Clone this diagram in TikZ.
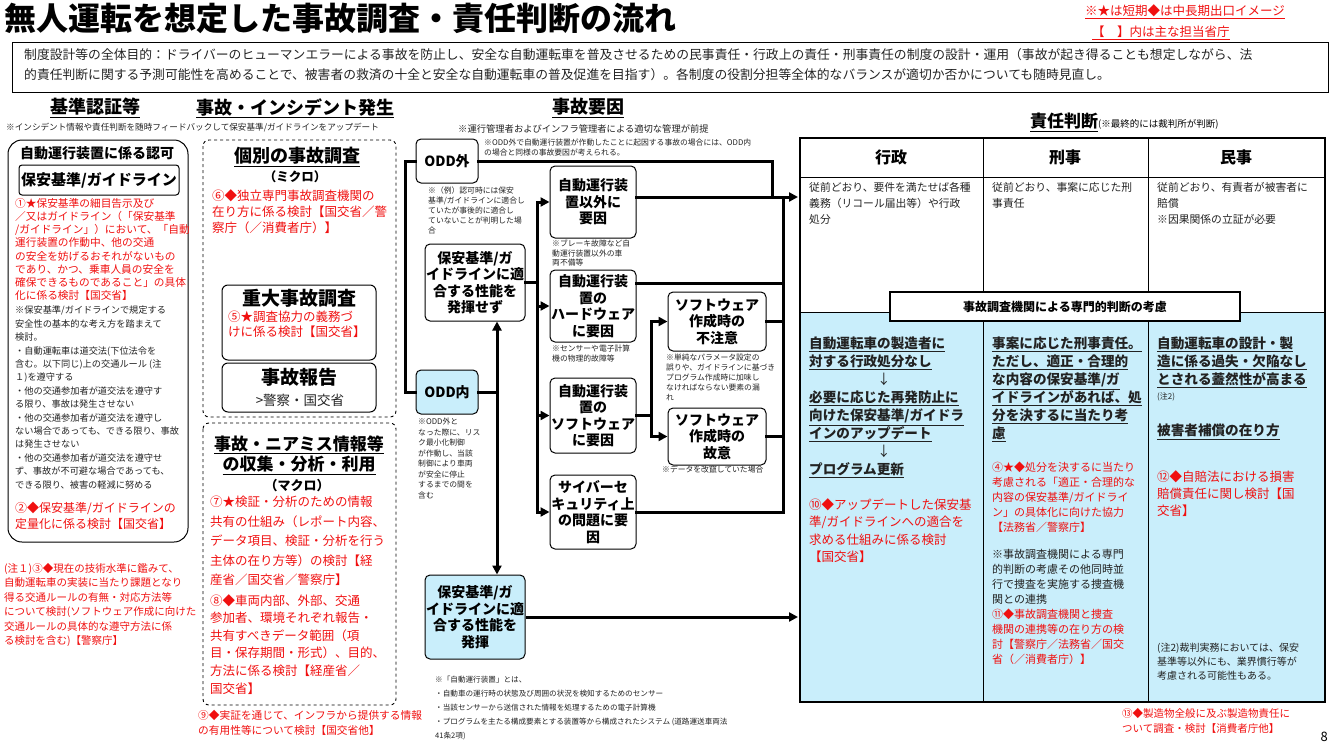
\documentclass[tikz,border=0pt]{standalone}
\usepackage{fontspec}
\setmainfont{Noto Sans CJK JP}
\usetikzlibrary{arrows.meta}
\newcommand{\fs}[2]{\fontsize{#1}{#2}\selectfont}
\newcommand{\U}[1]{\underline{#1}}
\definecolor{rd}{HTML}{F01010}
\definecolor{lb}{HTML}{C9EEFB}
\definecolor{tx}{HTML}{222222}
\begin{document}
\begin{tikzpicture}[x=1pt,y=-1pt,
  note/.style={anchor=north west,align=left,inner sep=0,text=tx},
  rnote/.style={anchor=north west,align=left,inner sep=0,text=rd},
  fbox/.style={draw,rounded corners=5,line width=1,align=center,font=\bfseries\fs{14}{16.5},inner sep=1},
  hdr/.style={font=\bfseries\fs{18}{20},inner sep=0},
  con/.style={line width=3,line cap=rect},
  arr/.style={line width=3,-{Triangle[length=9,width=9]}},
]
\useasboundingbox (0,0) rectangle (1334,750);
% title
\node[anchor=north west,inner sep=0,font=\bfseries\fs{32}{34}] (title) at (4,3) {無人運転を想定した事故調査・責任判断の流れ};
\node[anchor=north west,inner sep=0,text=rd,font=\fs{12.5}{14}] (leg1) at (1085,4) {\U{※★は短期◆は中長期出口イメージ}};
\node[anchor=north west,inner sep=0,text=rd,font=\fs{12.5}{14}] (leg2) at (1092,26) {\U{【　】内は主な担当省庁}};
\draw[line width=1] (12,42) rectangle (1328,92);
\node[note,font=\fs{12.8}{20}] (purpose) at (24,48) {制度設計等の全体目的：ドライバーのヒューマンエラーによる事故を防止し、安全な自動運転車を普及させるための民事責任・行政上の責任・刑事責任の制度の設計・運用（事故が起き得ることも想定しながら、法\\的責任判断に関する予測可能性を高めることで、被害者の救済の十全と安全な自動運転車の普及促進を目指す）。各制度の役割分担等全体的なバランスが適切か否かについても随時見直し。};

% column headers
\node[hdr] (h1) at (95,108) {\U{基準認証等}};
\node[hdr] (h2) at (295,108) {\U{事故・インシデント発生}};
\node[hdr] (h3) at (588,108) {\U{事故要因}};
\node[anchor=north west,inner sep=0] (h4) at (1030,113) {\bfseries\fs{17}{19}\U{責任判断}\mdseries\fs{9.5}{11}(※最終的には裁判所が判断)};
\node[note,font=\fs{8.6}{10}] (fb) at (6,123) {※インシデント情報や責任判断を随時フィードバックして保安基準/ガイドラインをアップデート};
\node[note,font=\fs{9.3}{11}] (pre) at (458,124) {※運行管理者およびインフラ管理者による適切な管理が前提};

% left box
\draw[line width=1,rounded corners=14] (8,140) rectangle (188,542);
\node[font=\bfseries\fs{14}{16},inner sep=0] (ninka) at (97,153) {自動運行装置に係る認可};
\node[draw,rounded corners=3,line width=1,minimum width=160,minimum height=30,font=\bfseries\fs{15}{17},inner sep=0] (hoan) at (99,180) {保安基準/ガイドライン};
\node[rnote,font=\fs{10.7}{13.2}] (r1) at (15,198) {①★保安基準の細目告示及び\\／又はガイドライン（「保安基準\\/ガイドライン」）において、「自動\\運行装置の作動中、他の交通\\の安全を妨げるおそれがないもの\\であり、かつ、乗車人員の安全を\\確保できるものであること」の具体\\化に係る検討【国交省】};
\node[note,font=\fs{9.2}{13.4}] (b1) at (15,306) {※保安基準/ガイドラインで規定する\\安全性の基本的な考え方を踏まえて\\検討。\\・自動運転車は道交法(下位法令を\\含む。以下同じ)上の交通ルール (注\\１)を遵守する\\・他の交通参加者が道交法を遵守す\\る限り、事故は発生させない\\・他の交通参加者が道交法を遵守し\\ない場合であっても、できる限り、事故\\は発生させない\\・他の交通参加者が道交法を遵守せ\\ず、事故が不可避な場合であっても、\\できる限り、被害の軽減に努める};
\node[rnote,font=\fs{12}{16}] (r2) at (15,502) {②◆保安基準/ガイドラインの\\定量化に係る検討【国交省】};
\node[rnote,font=\fs{10.5}{14.5}] (r3) at (4,563) {(注１)③◆現在の技術水準に鑑みて、\\自動運転車の実装に当たり課題となり\\得る交通ルールの有無・対応方法等\\について検討(ソフトウェア作成に向けた\\交通ルールの具体的な遵守方法に係\\る検討を含む)【警察庁】};

% incident column
\draw[line width=0.9,dashed,rounded corners=6] (203,140) rectangle (396,417);
\node[font=\bfseries\fs{18}{20},inner sep=0] (kobetsu) at (297,157) {\U{個別の事故調査}};
\node[font=\bfseries\fs{12.5}{14},inner sep=0] (micro) at (295,177) {（ミクロ）};
\node[rnote,font=\fs{12.5}{16.2}] (r6) at (212,189) {⑥◆独立専門事故調査機関の\\在り方に係る検討【国交省／警\\察庁（／消費者庁）】};
\draw[line width=1,rounded corners=6] (222,285) rectangle (376,360);
\node[font=\bfseries\fs{19}{21},inner sep=0] (judai) at (299,298) {重大事故調査};
\node[rnote,font=\fs{12.5}{15}] (r5) at (228,311) {⑤★調査協力の義務づ\\けに係る検討【国交省】};
\draw[line width=1,rounded corners=6] (222,363) rectangle (376,412);
\node[font=\bfseries\fs{19}{21},inner sep=0] (hokoku) at (299,377) {事故報告};
\node[font=\fs{13.5}{15},inner sep=0,text=tx] (keisatsu) at (300,400) {>警察・国交省};

\draw[line width=0.9,dashed,rounded corners=6] (203,423) rectangle (396,705);
\node[font=\bfseries\fs{17}{20.5},inner sep=0,align=center] (macroT) at (299,455) {\U{事故・ニアミス情報等}\\\U{の収集・分析・利用}};
\node[font=\bfseries\fs{13}{14},inner sep=0] (macro) at (297,486) {（マクロ）};
\node[rnote,font=\fs{12.5}{19.5}] (r7) at (210,496) {⑦★検証・分析のための情報\\共有の仕組み（レポート内容、\\データ項目、検証・分析を行う\\主体の在り方等）の検討【経\\産省／国交省／警察庁】};
\node[rnote,font=\fs{12.5}{17.6}] (r8) at (210,594) {⑧◆車両内部、外部、交通\\参加者、環境それぞれ報告・\\共有すべきデータ範囲（項\\目・保存期間・形式）、目的、\\方法に係る検討【経産省／\\国交省】};
\node[rnote,font=\fs{10.7}{15}] (r9) at (198,710) {⑨◆実証を通じて、インフラから提供する情報\\の有用性等について検討【国交省他】};

% cause column boxes
\node[fbox,minimum width=62,minimum height=44] (oddout) at (447,161) {ODD外};
\node[fbox,minimum width=62,minimum height=44,fill=lb] (oddin) at (447,392) {ODD内};
\node[fbox,minimum width=94,minimum height=77] (fail) at (475,282.5) {保安基準/ガ\\イドラインに適\\合する性能を\\発揮せず};
\node[fbox,minimum width=94,minimum height=84,fill=lb] (ok) at (475,617) {保安基準/ガ\\イドラインに適\\合する性能を\\発揮};
\node[fbox,minimum width=86,minimum height=72] (other) at (593,202) {自動運行装\\置以外に\\要因};
\node[fbox,minimum width=86,minimum height=72] (hw) at (593,306) {自動運行装\\置の\\ハードウェア\\に要因};
\node[fbox,minimum width=86,minimum height=75] (sw) at (593,415.5) {自動運行装\\置の\\ソフトウェア\\に要因};
\node[fbox,minimum width=86,minimum height=74] (cyber) at (593,512) {サイバーセ\\キュリティ上\\の問題に要\\因};
\node[fbox,minimum width=98,minimum height=59] (care) at (717,321.5) {ソフトウェア\\作成時の\\不注意};
\node[fbox,minimum width=98,minimum height=57] (intent) at (717,436.5) {ソフトウェア\\作成時の\\故意};

\node[note,font=\fs{7.8}{9.5}] (n1) at (484,139) {※ODD外で自動運行装置が作動したことに起因する事故の場合には、ODD内\\の場合と同様の事故要因が考えられる。};
\node[note,font=\fs{7.8}{10}] (n2) at (428,187) {※（例）認可時には保安\\基準/ガイドラインに適合し\\ていたが事後的に適合し\\ていないことが判明した場\\合};
\node[note,font=\fs{7.8}{9.5}] (n3) at (552,240) {※ブレーキ故障など自\\動運行装置以外の車\\両不備等};
\node[note,font=\fs{7.8}{9.5}] (n4) at (552,345) {※センサーや電子計算\\機の物理的故障等};
\node[note,font=\fs{7.8}{10}] (n5) at (666,354) {※単純なパラメータ設定の\\誤りや、ガイドラインに基づき\\プログラム作成時に加味し\\なければならない要素の漏\\れ};
\node[note,font=\fs{7.8}{9.5}] (n6) at (662,466) {※データを改竄していた場合};
\node[note,font=\fs{7.8}{10.5}] (n7) at (418,418) {※ODD外と\\なった際に、リス\\ク最小化制御\\が作動し、当該\\制御により車両\\が安全に停止\\するまでの間を\\含む};
\node[note,font=\fs{7.6}{14}] (n8) at (435,676) {※「自動運行装置」とは、\\・自動車の運行時の状態及び周囲の状況を検知するためのセンサー\\・当該センサーから送信された情報を処理するための電子計算機\\・プログラムを主たる構成要素とする装置等から構成されたシステム (道路運送車両法\\41条2項)};

% connectors
\coordinate (L1) at (405,161);
\coordinate (L2) at (405,392);
\draw[con] (oddout.west) -- (L1) -- (L2) -- (oddin.west);
\coordinate (V0) at (497,392);
\draw[con] (oddin.east) -- (V0);
\draw[arr] (V0) -- (fail.south -| V0);
\draw[arr] (V0) -- (ok.north -| V0);
\coordinate (S0) at (537,282.5);
\draw[con] (fail.east) -- (S0);
\draw[con] (537,202) -- (537,512);
\draw[arr] (537,202) -- (other.west);
\draw[arr] (537,306) -- (hw.west);
\draw[arr] (537,415.5) -- (sw.west);
\draw[arr] (537,512) -- (cyber.west);
\coordinate (W0) at (651,415.5);
\draw[con] (sw.east) -- (W0);
\draw[con] (651,321.5) -- (651,436.5);
\draw[arr] (651,321.5) -- (care.west);
\draw[arr] (651,436.5) -- (intent.west);
% collector
\coordinate (R0) at (772,161);
\draw[con] (oddout.east) -- (R0) -- (772,197);
\draw[con] (783,197) -- (783,512);
\draw[con] (other.east |- 0,197) -- (783,197);
\draw[arr] (783,197) -- (798,197);
\draw[con] (hw.east |- 0,283) -- (783,283);
\draw[con] (care.east) -- (783,321.5);
\draw[con] (intent.east) -- (783,436.5);
\draw[con] (cyber.east) -- (783,512);
\draw[arr] (ok.east) -- (798,617);

% table
\fill[lb] (800,312) rectangle (1325,702);
\draw[line width=1.2] (800,138) rectangle (1325,702);
\draw[line width=1] (800,177) -- (1325,177);
\draw[line width=1] (800,312) -- (1325,312);
\draw[line width=1] (983,138) -- (983,702);
\draw[line width=1] (1148,138) -- (1148,702);
\node[font=\bfseries\fs{16}{18},inner sep=0] (gyosei) at (891,157) {行政};
\node[font=\bfseries\fs{16}{18},inner sep=0] (keiji) at (1065,157) {刑事};
\node[font=\bfseries\fs{16}{18},inner sep=0] (minji) at (1236,157) {民事};
\node[note,font=\fs{10.8}{16}] (c1) at (809,182) {従前どおり、要件を満たせば各種\\義務（リコール届出等）や行政\\処分};
\node[note,font=\fs{10.8}{16}] (c2) at (992,182) {従前どおり、事案に応じた刑\\事責任};
\node[note,font=\fs{10.8}{16}] (c3) at (1157,182) {従前どおり、有責者が被害者に\\賠償\\※因果関係の立証が必要};
\node[draw,line width=1.2,fill=white,minimum width=350,minimum height=29,font=\bfseries\fs{12}{14},inner sep=0] (senmon) at (1065,306.5) {事故調査機関による専門的判断の考慮};

\node[note,font=\bfseries\fs{13.6}{18}] (d1) at (809,337) {\U{自動運転車の製造者に}\\\U{対する行政処分なし}\\\hspace*{68pt}\mdseries ↓\\\U{必要に応じた再発防止に}\\\U{向けた保安基準/ガイドラ}\\\U{インのアップデート}\\\hspace*{68pt}\mdseries ↓\\\U{プログラム更新}};
\node[rnote,font=\fs{12.5}{17.5}] (r10) at (809,498) {⑩◆アップデートした保安基\\準/ガイドラインへの適合を\\求める仕組みに係る検討\\【国交省】};
\node[note,font=\bfseries\fs{13.6}{18}] (d2) at (992,337) {\U{事案に応じた刑事責任。}\\\U{ただし、適正・合理的}\\\U{な内容の保安基準/ガ}\\\U{イドラインがあれば、処}\\\U{分を決するに当たり考}\\\U{慮}};
\node[rnote,font=\fs{11}{15}] (r4) at (992,462) {④★◆処分を決するに当たり\\考慮される「適正・合理的な\\内容の保安基準/ガイドライ\\ン」の具体化に向けた協力\\【法務省／警察庁】};
\node[note,font=\fs{11}{15}] (d2b) at (992,549) {※事故調査機関による専門\\的判断の考慮その他同時並\\行で捜査を実施する捜査機\\関との連携};
\node[rnote,font=\fs{11}{15}] (r11) at (992,609) {⑪◆事故調査機関と捜査\\機関の連携等の在り方の検\\討【警察庁／法務省／国交\\省（／消費者庁）】};
\node[note,font=\bfseries\fs{13.6}{18}] (d3) at (1157,337) {\U{自動運転車の設計・製}\\\U{造に係る過失・欠陥なし}\\\U{とされる蓋然性が高まる}};
\node[note,font=\fs{8}{9}] (chu2) at (1157,393) {(注2)};
\node[note,font=\bfseries\fs{13.6}{18}] (d3b) at (1157,424) {\U{被害者補償の在り方}};
\node[rnote,font=\fs{12.5}{17}] (r12) at (1157,470) {⑫◆自賠法における損害\\賠償責任に関し検討【国\\交省】};
\node[note,font=\fs{10}{14}] (d3c) at (1157,643) {(注2)裁判実務においては、保安\\基準等以外にも、業界慣行等が\\考慮される可能性もある。};
\node[rnote,font=\fs{10.5}{15}] (r13) at (1122,708) {⑬◆製造物全般に及ぶ製造物責任に\\ついて調査・検討【消費者庁他】};
\node[anchor=south east,inner sep=0,font=\fs{13}{14}] (pg) at (1328,742) {8};
\end{tikzpicture}
\end{document}
